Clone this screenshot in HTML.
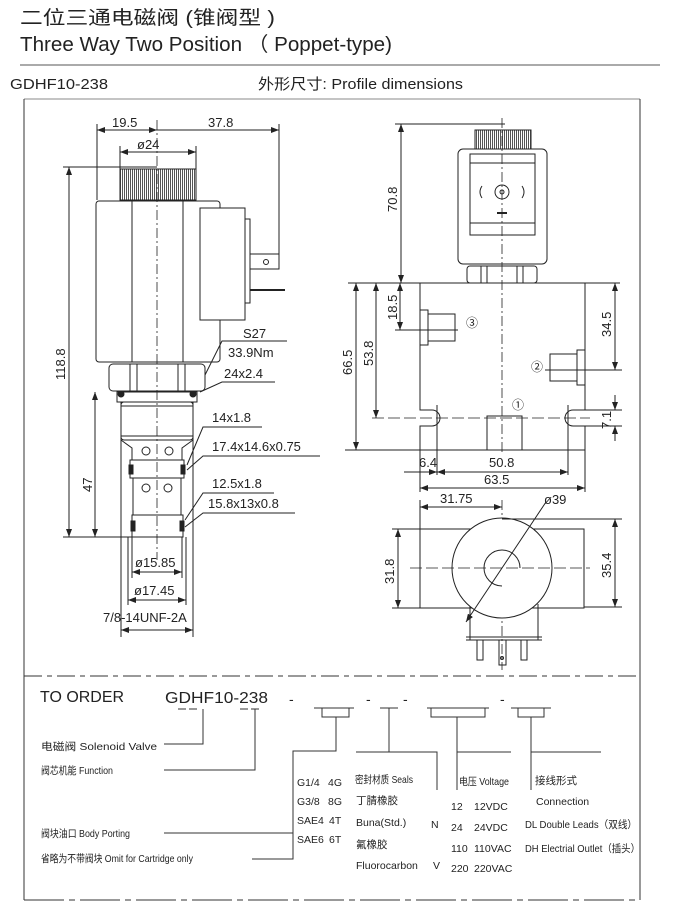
<!DOCTYPE html>
<html><head><meta charset="utf-8"><style>
html,body{margin:0;padding:0;background:#fff;}
svg{display:block;}
text{font-family:"Liberation Sans","Noto Sans CJK SC",sans-serif;fill:#222;}
.d{font-size:13px;}
.o{font-size:10.5px;}
</style></head><body>
<svg width="692" height="913" viewBox="0 0 692 913" xmlns="http://www.w3.org/2000/svg">
<defs>
<marker id="a" markerWidth="8" markerHeight="6" refX="8" refY="3" orient="auto-start-reverse" markerUnits="userSpaceOnUse"><path d="M0,0 L8,3 L0,6 z" fill="#222"/></marker>
<pattern id="k" width="2" height="4" patternUnits="userSpaceOnUse"><rect width="1" height="4" fill="#555"/></pattern>
</defs>
<g>
<text x="20" y="24" font-size="19" textLength="255" lengthAdjust="spacingAndGlyphs">二位三通电磁阀 (锥阀型 )</text>
<text x="20" y="51" font-size="20" textLength="372" lengthAdjust="spacingAndGlyphs">Three Way Two Position （ Poppet-type)</text>
<line x1="20" y1="65" x2="660" y2="65" stroke="#777" stroke-width="1.2"/>
<text x="10" y="89" font-size="15" textLength="98" lengthAdjust="spacingAndGlyphs">GDHF10-238</text>
<text x="258" y="89" font-size="15" textLength="205" lengthAdjust="spacingAndGlyphs">外形尺寸: Profile dimensions</text>
</g>
<g fill="none" stroke="#333" stroke-width="1">
<line x1="24" y1="99" x2="640" y2="99" stroke="#888"/>
<line x1="24" y1="99" x2="24" y2="900"/>
<line x1="640" y1="99" x2="640" y2="900"/>
<line x1="24" y1="676" x2="640" y2="676" stroke-dasharray="18,5,5,5"/>
<line x1="24" y1="900" x2="640" y2="900" stroke-dasharray="40,5,6,5"/>
</g>

<!-- left view -->
<g fill="none" stroke="#222" stroke-width="1">
<line x1="97" y1="130" x2="157" y2="130" marker-start="url(#a)" marker-end="url(#a)"/>
<line x1="157" y1="130" x2="279" y2="130" marker-end="url(#a)"/>
<text class="d" x="112" y="127" stroke="none">19.5</text>
<text class="d" x="208" y="127" stroke="none">37.8</text>
<line x1="97" y1="124" x2="97" y2="200"/>
<line x1="279" y1="124" x2="279" y2="262"/>
<line x1="120" y1="152" x2="196" y2="152" marker-start="url(#a)" marker-end="url(#a)"/>
<text class="d" x="137" y="149" stroke="none">ø24</text>
<line x1="120" y1="146" x2="120" y2="169"/><line x1="196" y1="146" x2="196" y2="169"/>
<line x1="63" y1="167" x2="157" y2="167"/>
<rect x="120" y="169" width="76" height="31" fill="url(#k)"/>
<rect x="96" y="201" width="124" height="161" rx="3"/>
<line x1="132" y1="201" x2="132" y2="362"/><line x1="183" y1="201" x2="183" y2="362"/>
<line x1="157" y1="120" x2="157" y2="560" stroke-dasharray="10,3,2,3" stroke-width="0.8"/>
<rect x="200" y="208" width="45" height="112" fill="#fff"/>
<rect x="245" y="219" width="5" height="84"/>
<rect x="250" y="254" width="29" height="15"/>
<circle cx="266" cy="262" r="2.5"/>
<line x1="250" y1="290" x2="285" y2="290" stroke-width="2"/>
<polyline points="205,375 222,341 287,341"/>
<text class="d" x="243" y="338" stroke="none">S27</text>
<text class="d" x="228" y="357" stroke="none">33.9Nm</text>
<rect x="109" y="364" width="96" height="27" rx="4"/>
<line x1="130" y1="364" x2="130" y2="391"/><line x1="137" y1="364" x2="137" y2="391"/>
<line x1="178" y1="364" x2="178" y2="391"/><line x1="185" y1="364" x2="185" y2="391"/>
<polyline points="200,392 222,382 275,382"/>
<text class="d" x="224" y="378" stroke="none">24x2.4</text>
<line x1="69" y1="167" x2="69" y2="537" marker-start="url(#a)" marker-end="url(#a)"/>
<text class="d" transform="translate(65,380) rotate(-90)" stroke="none">118.8</text>
<rect x="117" y="392" width="80" height="10"/>
<circle cx="121" cy="394" r="3" fill="#222"/><circle cx="193" cy="394" r="3" fill="#222"/>
<rect x="121" y="402" width="72" height="38" rx="3"/>
<line x1="121" y1="406" x2="193" y2="406"/><line x1="121" y1="436" x2="193" y2="436"/>
<polyline points="121,440 132,448 132,460 182,460 182,448 193,440"/>
<circle cx="146" cy="451" r="4"/><circle cx="169" cy="451" r="4"/>
<rect x="130" y="460" width="54" height="18"/>
<rect x="129" y="465" width="4" height="9" fill="#222"/><rect x="181" y="465" width="4" height="9" fill="#222"/>
<rect x="133" y="478" width="48" height="37"/>
<circle cx="146" cy="488" r="4"/><circle cx="168" cy="488" r="4"/>
<rect x="132" y="515" width="51" height="22"/>
<rect x="131" y="521" width="4" height="10" fill="#222"/><rect x="180" y="521" width="4" height="10" fill="#222"/>
<line x1="63" y1="537" x2="183" y2="537"/>
<line x1="95" y1="392" x2="95" y2="537" marker-start="url(#a)" marker-end="url(#a)"/>
<text class="d" transform="translate(92,492) rotate(-90)" stroke="none">47</text>
<polyline points="187,465 203,427 262,427"/>
<text class="d" x="212" y="422" stroke="none">14x1.8</text>
<polyline points="187,470 203,456 320,456"/>
<text class="d" x="212" y="451" stroke="none">17.4x14.6x0.75</text>
<polyline points="185,520 203,493 274,493"/>
<text class="d" x="212" y="488" stroke="none">12.5x1.8</text>
<polyline points="185,527 203,513 295,513"/>
<text class="d" x="208" y="508" stroke="none">15.8x13x0.8</text>
<line x1="132" y1="537" x2="132" y2="578"/><line x1="182" y1="537" x2="182" y2="578"/>
<line x1="132" y1="572" x2="182" y2="572" marker-start="url(#a)" marker-end="url(#a)"/>
<text class="d" x="135" y="567" stroke="none">ø15.85</text>
<line x1="128" y1="537" x2="128" y2="605"/><line x1="186" y1="537" x2="186" y2="605"/>
<line x1="128" y1="600" x2="186" y2="600" marker-start="url(#a)" marker-end="url(#a)"/>
<text class="d" x="134" y="595" stroke="none">ø17.45</text>
<line x1="121" y1="402" x2="121" y2="637"/><line x1="193" y1="402" x2="193" y2="637"/>
<line x1="121" y1="630" x2="193" y2="630" marker-start="url(#a)" marker-end="url(#a)"/>
<text class="d" x="103" y="622" stroke="none">7/8-14UNF-2A</text>
</g>

<!-- right top view -->
<g fill="none" stroke="#222" stroke-width="1">
<line x1="395" y1="124" x2="505" y2="124"/>
<line x1="401" y1="124" x2="401" y2="283" marker-start="url(#a)" marker-end="url(#a)"/>
<text class="d" transform="translate(397,212) rotate(-90)" stroke="none">70.8</text>
<rect x="475" y="130" width="56" height="19" fill="url(#k)"/>
<rect x="458" y="149" width="89" height="115" rx="5" fill="#fff"/>
<rect x="470" y="154" width="65" height="81"/>
<line x1="470" y1="163" x2="535" y2="163"/><line x1="470" y1="223" x2="535" y2="223"/>
<circle cx="502" cy="192" r="7"/><circle cx="502" cy="192" r="2"/>
<path d="M482,186 q-4,6 0,12 M522,186 q4,6 0,12"/>
<line x1="497" y1="213" x2="507" y2="213" stroke-width="2"/>
<rect x="467" y="266" width="70" height="17" rx="3"/>
<line x1="481" y1="266" x2="481" y2="283"/><line x1="487" y1="266" x2="487" y2="283"/>
<line x1="517" y1="266" x2="517" y2="283"/><line x1="523" y1="266" x2="523" y2="283"/>
<path d="M420,283 H585 V410 H573 A8,8 0 0 0 573,426 H585 V450 H420 V426 H432 A8,8 0 0 0 432,410 H420 Z" fill="#fff"/>
<line x1="502" y1="118" x2="502" y2="455" stroke-dasharray="10,3,2,3" stroke-width="0.8"/>
<line x1="372" y1="418" x2="590" y2="418" stroke-dasharray="12,4" stroke-width="0.8"/>
<line x1="437" y1="405" x2="437" y2="475"/><line x1="568" y1="405" x2="568" y2="475"/>
<path d="M420,310 h8 v35 h-8 M428,314 h27 v27 h-27"/>
<text x="466" y="327" font-size="12" stroke="none">③</text>
<path d="M585,350 h-8 v35 h8 M577,354 h-27 v27 h27"/>
<text x="531" y="371" font-size="12" stroke="none">②</text>
<path d="M487,450 v-34 h35 v34 M480,450 h48"/>
<text x="512" y="409" font-size="12" stroke="none">①</text>
<line x1="348" y1="283" x2="620" y2="283"/>
<line x1="345" y1="450" x2="420" y2="450"/>
<line x1="356" y1="283" x2="356" y2="450" marker-start="url(#a)" marker-end="url(#a)"/>
<text class="d" transform="translate(352,375) rotate(-90)" stroke="none">66.5</text>
<line x1="376" y1="283" x2="376" y2="418" marker-start="url(#a)" marker-end="url(#a)"/>
<text class="d" transform="translate(373,366) rotate(-90)" stroke="none">53.8</text>
<line x1="400" y1="283" x2="400" y2="330" marker-start="url(#a)" marker-end="url(#a)"/>
<line x1="395" y1="330" x2="458" y2="330"/>
<text class="d" transform="translate(397,320) rotate(-90)" stroke="none">18.5</text>
<line x1="615" y1="283" x2="615" y2="370" marker-start="url(#a)" marker-end="url(#a)"/>
<line x1="545" y1="370" x2="622" y2="370"/>
<text class="d" transform="translate(611,337) rotate(-90)" stroke="none">34.5</text>
<line x1="585" y1="410" x2="622" y2="410"/><line x1="585" y1="426" x2="622" y2="426"/>
<line x1="615" y1="395" x2="615" y2="410" marker-end="url(#a)"/>
<line x1="615" y1="441" x2="615" y2="426" marker-end="url(#a)"/>
<text class="d" transform="translate(611,429) rotate(-90)" stroke="none">7.1</text>
<line x1="420" y1="450" x2="420" y2="492"/><line x1="585" y1="450" x2="585" y2="492"/>
<line x1="404" y1="472" x2="437" y2="472" marker-end="url(#a)"/>
<line x1="437" y1="472" x2="568" y2="472" marker-start="url(#a)" marker-end="url(#a)"/>
<text class="d" x="419" y="467" stroke="none">6.4</text>
<text class="d" x="489" y="467" stroke="none">50.8</text>
<line x1="420" y1="488" x2="585" y2="488" marker-start="url(#a)" marker-end="url(#a)"/>
<text class="d" x="484" y="484" stroke="none">63.5</text>
</g>

<!-- right bottom view -->
<g fill="none" stroke="#222" stroke-width="1">
<line x1="420" y1="500" x2="420" y2="529"/>
<line x1="502" y1="500" x2="502" y2="670" stroke-dasharray="10,3,2,3" stroke-width="0.8"/>
<line x1="420" y1="507" x2="502" y2="507" marker-start="url(#a)" marker-end="url(#a)"/>
<text class="d" x="440" y="503" stroke="none">31.75</text>
<rect x="420" y="529" width="164" height="79"/>
<line x1="470" y1="604" x2="470" y2="640"/><line x1="538" y1="604" x2="538" y2="640"/>
<line x1="466" y1="637" x2="542" y2="637"/><line x1="466" y1="640" x2="542" y2="640"/>
<circle cx="502" cy="568" r="50" fill="#fff"/>
<path d="M502,550 A18,18 0 1 0 502,586 M502,550 A18,18 0 0 1 520,568"/>
<line x1="410" y1="568" x2="590" y2="568" stroke-dasharray="12,4" stroke-width="0.8"/>
<line x1="466" y1="622" x2="546" y2="502" marker-start="url(#a)"/>
<text class="d" x="544" y="504" stroke="none">ø39</text>
<rect x="477" y="640" width="6" height="20"/><rect x="499" y="640" width="7" height="25"/><rect x="521" y="640" width="6" height="20"/>
<circle cx="502" cy="658" r="1.5"/>
<line x1="392" y1="529" x2="420" y2="529"/><line x1="392" y1="608" x2="420" y2="608"/>
<line x1="398" y1="529" x2="398" y2="608" marker-start="url(#a)" marker-end="url(#a)"/>
<text class="d" transform="translate(394,584) rotate(-90)" stroke="none">31.8</text>
<line x1="502" y1="519" x2="622" y2="519"/><line x1="584" y1="607" x2="622" y2="607"/>
<line x1="615" y1="519" x2="615" y2="607" marker-start="url(#a)" marker-end="url(#a)"/>
<text class="d" transform="translate(611,578) rotate(-90)" stroke="none">35.4</text>
</g>

<!-- order section -->
<g fill="none" stroke="#333" stroke-width="1">
<line x1="178" y1="709" x2="200" y2="709" stroke-dasharray="8,3"/>
<line x1="240" y1="709" x2="262" y2="709" stroke-dasharray="8,3"/>
<polyline points="203,709 203,744 164,744"/>
<polyline points="255,709 255,770 164,770"/>
<path d="M314,708 h40 M322,708 v9 h27 v-9 M336,717 v34 H293 V859 H252 M293,833 H164"/>
<path d="M380,708 h18 M389,708 v44 M356,752 H437 V790"/>
<path d="M427,708 h62 M431,708 v9 h54 v-9 M457,717 v73 M457,752 h54"/>
<path d="M511,708 h40 M518,708 v9 h26 v-9 M531,717 v73 M531,752 h70"/>
</g>
<g>
<text x="40" y="702" font-size="16" textLength="84" lengthAdjust="spacingAndGlyphs">TO ORDER</text>
<text x="165" y="703" font-size="16" textLength="103" lengthAdjust="spacingAndGlyphs">GDHF10-238</text>
<text x="289" y="704" font-size="14">-</text>
<text x="366" y="704" font-size="14">-</text>
<text x="403" y="704" font-size="14">-</text>
<text x="500" y="704" font-size="14">-</text>
<text class="o" x="41" y="750" textLength="116" lengthAdjust="spacingAndGlyphs">电磁阀 Solenoid Valve</text>
<text class="o" x="41" y="774" textLength="72" lengthAdjust="spacingAndGlyphs">阀芯机能 Function</text>
<text class="o" x="41" y="837" textLength="89" lengthAdjust="spacingAndGlyphs">阀块油口 Body Porting</text>
<text class="o" x="41" y="862" textLength="152" lengthAdjust="spacingAndGlyphs">省略为不带阀块 Omit for Cartridge only</text>
<text class="o" x="297" y="786">G1/4</text><text class="o" x="328" y="786">4G</text>
<text class="o" x="297" y="805">G3/8</text><text class="o" x="328" y="805">8G</text>
<text class="o" x="297" y="824">SAE4</text><text class="o" x="329" y="824">4T</text>
<text class="o" x="297" y="843">SAE6</text><text class="o" x="329" y="843">6T</text>
<text class="o" x="355" y="783" textLength="58" lengthAdjust="spacingAndGlyphs">密封材质 Seals</text>
<text class="o" x="356" y="804">丁腈橡胶</text>
<text class="o" x="356" y="826">Buna(Std.)</text>
<text class="o" x="431" y="828">N</text>
<text class="o" x="356" y="848">氟橡胶</text>
<text class="o" x="356" y="869">Fluorocarbon</text>
<text class="o" x="433" y="869">V</text>
<text class="o" x="459" y="785" textLength="50" lengthAdjust="spacingAndGlyphs">电压 Voltage</text>
<text class="o" x="451" y="810">12</text><text class="o" x="474" y="810">12VDC</text>
<text class="o" x="451" y="831">24</text><text class="o" x="474" y="831">24VDC</text>
<text class="o" x="451" y="852">110</text><text class="o" x="474" y="852">110VAC</text>
<text class="o" x="451" y="872">220</text><text class="o" x="474" y="872">220VAC</text>
<text class="o" x="535" y="784">接线形式</text>
<text class="o" x="536" y="805">Connection</text>
<text class="o" x="525" y="828" textLength="112" lengthAdjust="spacingAndGlyphs">DL  Double Leads（双线）</text>
<text class="o" x="525" y="852" textLength="115" lengthAdjust="spacingAndGlyphs">DH  Electrial Outlet（插头）</text>
</g>
</svg>
</body></html>
